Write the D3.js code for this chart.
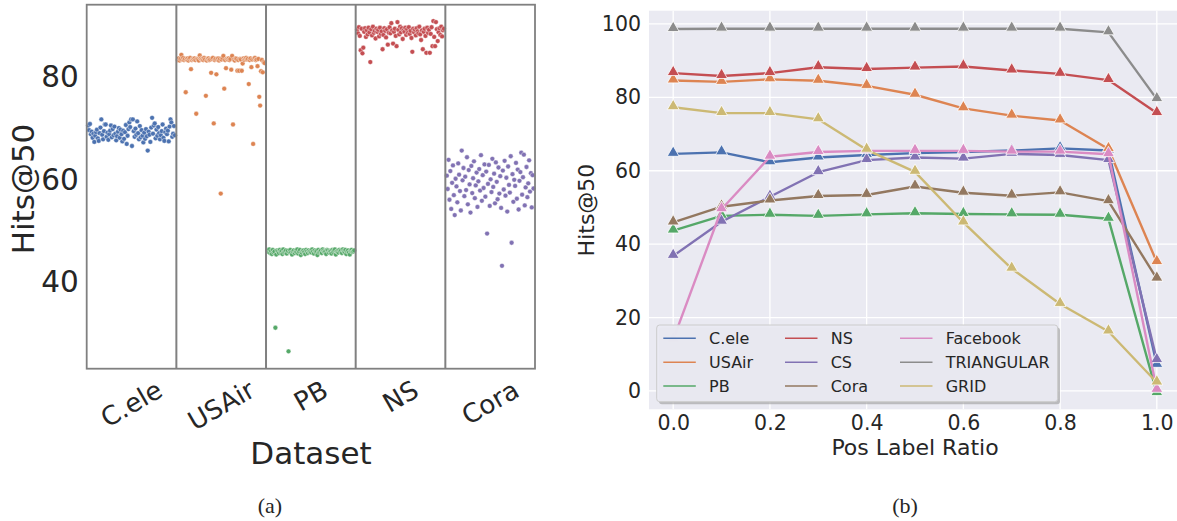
<!DOCTYPE html>
<html>
<head>
<meta charset="utf-8">
<script src="https://cdn.jsdelivr.net/npm/d3@7"></script>
<style>
  body { margin: 0; background: #fff; }
  text { font-family: "DejaVu Sans", sans-serif; fill: #262626; }
</style>
</head>
<body>
<svg id="chart" width="1177" height="521"></svg>
<script>
// ---- panel (a): per-dataset Hits@50 over runs ----
const datasets = ["C.ele", "USAir", "PB", "NS", "Cora"];
const celeHits = [70.6, 69.7, 70.9, 68.9, 69.4, 68.2, 69.0, 67.4, 68.6, 69.3,
  69.8, 68.1, 67.6, 69.1, 70.2, 71.8, 68.8, 67.9, 69.5, 70.8,
  70.8, 68.4, 69.2, 67.8, 68.9, 69.6, 70.6, 68.3, 69.9, 68.7,
  70.4, 69.0, 67.7, 68.5, 69.4, 70.1, 68.2, 69.8, 68.9, 67.5,
  69.6, 68.0, 69.3, 70.7, 67.0, 68.6, 69.9, 71.2, 70.3, 71.8,
  66.6, 71.8, 69.5, 68.4, 70.0, 68.8, 71.4, 69.1, 67.9, 70.5,
  68.3, 69.7, 68.6, 67.3, 69.2, 68.0, 69.9, 68.5, 65.7, 69.4,
  68.8, 67.4, 70.2, 72.1, 69.0, 70.6, 71.0, 68.1, 69.8, 68.6,
  70.3, 69.1, 67.9, 68.7, 69.5, 70.8, 68.2, 67.6, 69.3, 70.0,
  68.9, 69.6, 67.5, 70.4, 71.8, 71.2, 68.4, 69.0, 70.5, 68.7];
const usairHits = [83.4, 83.7, 83.3, 83.6, 84.4, 83.5, 83.8, 83.4, 83.6, 77.1,
  83.5, 83.7, 83.3, 83.6, 83.8, 81.6, 83.4, 83.6, 83.5, 83.7,
  83.4, 72.9, 83.6, 83.5, 83.3, 84.3, 83.7, 83.5, 83.6, 83.4,
  83.8, 83.5, 76.4, 83.3, 83.6, 83.7, 83.4, 83.5, 80.9, 83.6,
  83.8, 71.0, 83.4, 83.6, 80.6, 83.5, 83.7, 83.3, 83.6, 57.3,
  83.5, 83.8, 84.2, 77.8, 83.4, 81.8, 83.6, 83.5, 83.7, 83.4,
  83.6, 81.5, 84.2, 70.8, 83.5, 83.3, 83.7, 83.6, 81.3, 83.4,
  81.3, 83.6, 83.5, 81.3, 82.7, 83.7, 83.4, 83.6, 83.8, 83.5,
  83.6, 78.7, 83.4, 83.7, 82.0, 83.5, 67.0, 83.6, 83.8, 83.4,
  83.5, 82.2, 83.6, 76.2, 74.5, 81.2, 83.4, 81.0, 83.0, 82.8];
const pbHits = [46.2, 45.9, 46.4, 45.7, 46.1, 45.5, 46.3, 45.8, 46.0, 31.1,
  45.4, 46.2, 46.0, 45.7, 46.3, 45.9, 46.1, 45.5, 46.4, 45.8,
  46.0, 46.2, 45.6, 46.1, 26.5, 45.9, 46.3, 45.8, 45.4, 46.0,
  46.2, 45.7, 46.1, 45.9, 46.4, 45.6, 46.0, 46.3, 45.3, 45.8,
  46.1, 46.2, 45.9, 45.5, 46.3, 46.0, 45.7, 46.2, 45.9, 46.1,
  45.8, 46.4, 46.0, 45.6, 46.2, 45.9, 46.1, 45.3, 46.3, 45.8,
  46.0, 46.2, 45.7, 46.4, 46.1, 45.9, 46.0, 45.5, 46.3, 46.2,
  45.8, 46.1, 46.0, 45.6, 46.3, 45.9, 46.2, 46.4, 45.4, 46.0,
  46.1, 45.8, 46.3, 46.0, 46.2, 45.7, 46.4, 46.1, 45.9, 46.3,
  45.5, 46.0, 46.2, 45.8, 45.4, 46.1, 46.3, 45.9, 46.0, 46.2];
const nsHits = [89.3, 88.6, 89.8, 88.1, 85.3, 89.5, 84.7, 85.8, 88.9, 89.6,
  87.9, 89.2, 88.4, 89.7, 88.8, 83.0, 89.4, 88.2, 89.9, 88.7,
  89.1, 87.6, 89.5, 88.9, 89.3, 88.0, 89.7, 88.5, 89.0, 85.5,
  88.3, 89.6, 89.1, 87.8, 89.4, 86.4, 88.7, 89.8, 88.6, 90.6,
  89.2, 86.6, 88.9, 89.5, 88.1, 86.1, 90.8, 89.3, 88.4, 89.9,
  88.8, 89.6, 87.5, 89.2, 88.9, 89.7, 88.3, 89.4, 88.7, 89.8,
  88.5, 89.1, 87.7, 85.0, 89.5, 88.8, 89.3, 88.2, 89.6, 89.0,
  88.6, 89.9, 88.4, 87.3, 89.2, 85.5, 88.9, 89.5, 88.1, 84.8,
  89.7, 88.7, 89.3, 84.8, 88.5, 89.8, 86.1, 91.0, 87.9, 86.1,
  90.8, 89.4, 87.1, 88.8, 89.6, 88.3, 89.9, 88.0, 89.2, 89.5];
const coraHits = [60.8, 58.2, 63.9, 56.1, 61.7, 54.3, 59.4, 62.8, 57.0, 53.1,
  60.2, 58.7, 55.6, 63.2, 61.0, 57.8, 54.0, 65.7, 59.9, 62.3,
  56.8, 60.6, 58.0, 64.4, 55.2, 61.9, 59.1, 53.6, 62.7, 57.4,
  60.3, 63.6, 56.4, 58.9, 61.4, 54.7, 59.7, 62.1, 57.9, 64.8,
  55.9, 60.9, 58.4, 63.0, 56.7, 61.6, 49.5, 59.2, 62.9, 54.9,
  60.1, 57.6, 64.1, 58.6, 61.2, 55.4, 63.4, 59.6, 56.2, 62.4,
  57.3, 60.7, 54.5, 43.2, 61.8, 58.1, 63.7, 56.9, 60.4, 53.8,
  62.6, 59.0, 57.5, 64.6, 47.7, 61.1, 55.7, 60.0, 58.8, 63.3,
  56.3, 62.0, 54.2, 59.8, 61.5, 65.3, 57.1, 60.5, 64.9, 55.0,
  58.5, 62.5, 56.6, 59.3, 63.8, 57.7, 61.3, 54.6, 60.9, 58.3];
const stripTicks = [40, 60, 80];

// ---- panel (b): Hits@50 vs positive label ratio ----
const ratios = [0.0, 0.1, 0.2, 0.3, 0.4, 0.5, 0.6, 0.7, 0.8, 0.9, 1.0];
const seriesNames = ["C.ele", "USAir", "PB", "NS", "CS", "Cora", "Facebook", "TRIANGULAR", "GRID"];
const celeLine = [64.6, 65.0, 62.3, 63.6, 64.3, 64.8, 65.1, 65.5, 66.1, 65.5, 7.1];
const usairLine = [84.6, 84.2, 84.9, 84.5, 83.1, 80.7, 77.0, 75.0, 73.7, 65.9, 35.1];
const pbLine = [43.7, 47.7, 48.0, 47.7, 48.1, 48.4, 48.2, 48.1, 48.0, 46.9, -0.6];
const nsLine = [86.6, 85.8, 86.6, 88.2, 87.7, 88.1, 88.4, 87.3, 86.4, 84.7, 75.7];
const csLine = [36.8, 46.1, 52.9, 59.6, 62.9, 63.6, 63.3, 64.6, 64.3, 62.9, 8.4];
const coraLine = [45.9, 50.2, 51.9, 53.1, 53.4, 55.7, 54.0, 53.2, 54.1, 51.7, 30.6];
const facebookLine = [14.0, 49.5, 63.8, 65.1, 65.4, 65.4, 65.4, 65.2, 65.2, 64.5, 0.3];
const triangularLine = [98.6, 98.7, 98.7, 98.7, 98.7, 98.7, 98.7, 98.7, 98.7, 97.7, 79.5];
const gridLine = [77.3, 75.7, 75.7, 74.0, 65.7, 59.7, 45.9, 33.3, 23.7, 16.2, 2.3];
const lineYTicks = [0, 20, 40, 60, 80, 100];
const lineXTicks = [0.0, 0.2, 0.4, 0.6, 0.8, 1.0];

const palette = ["#4C72B0", "#DD8452", "#55A868", "#C44E52", "#8172B3", "#937860", "#DA8BC3", "#8C8C8C", "#CCB974"];

const svg = d3.select("#chart");

// ================= panel (a) =================
const stripData = [celeHits, usairHits, pbHits, nsHits, coraHits];
const xa = d3.scaleBand().domain(datasets).range([86.7, 535]);
const ya = d3.scaleLinear().domain([23.1, 94.2]).range([368.7, 4.7]);

const gA = svg.append("g");

stripData.forEach(function(vals, k) {
    const cat = datasets[k];
    const inner = d3.scalePoint().domain(d3.range(vals.length))
        .range([xa(cat) + 1.5, xa(cat) + xa.bandwidth() - 1.5]);
    gA.selectAll(".dot" + k)
        .data(vals)
        .enter()
        .append("circle")
        .attr("cx", (v, i) => inner(i))
        .attr("cy", v => ya(v))
        .attr("r", 2.4)
        .attr("fill", palette[k === 4 ? 4 : k])
        .attr("stroke", "#fff")
        .attr("stroke-width", 0.4);
});

// separators between datasets
gA.selectAll(".sep")
    .data(datasets.slice(1))
    .enter()
    .append("line")
    .attr("x1", d => xa(d)).attr("x2", d => xa(d))
    .attr("y1", 4.7).attr("y2", 368.7)
    .attr("stroke", "#808080").attr("stroke-width", 2);

gA.append("rect")
    .attr("x", 86.7).attr("y", 4.7)
    .attr("width", 535 - 86.7).attr("height", 368.7 - 4.7)
    .attr("fill", "none").attr("stroke", "#808080").attr("stroke-width", 1.8);

const axA = gA.append("g")
    .attr("transform", "translate(86.7,0)")
    .call(d3.axisLeft(ya).tickValues(stripTicks).tickSize(0).tickPadding(8));
axA.select(".domain").remove();
axA.selectAll("text").style("font-size", "29.5px").attr("fill", "#262626");

// rotated dataset labels
datasets.forEach(function(cat) {
    const t = gA.append("text")
        .text(cat)
        .style("font-size", "26px")
        .attr("text-anchor", "middle")
        .attr("dominant-baseline", "central");
    const len = t.node().getComputedTextLength();
    const h = 26 * 0.75;
    const boxH = len * 0.5 + h * 0.866;
    t.attr("transform", `translate(${xa(cat) + xa.bandwidth() / 2},${379 + boxH / 2}) rotate(-30)`);
});

gA.append("text")
    .text("Dataset")
    .attr("x", 311).attr("y", 464)
    .attr("text-anchor", "middle")
    .style("font-size", "31px");

gA.append("text")
    .text("Hits@50")
    .attr("transform", "translate(34,189) rotate(-90)")
    .attr("text-anchor", "middle")
    .style("font-size", "31px");

// ================= panel (b) =================
const lines = [celeLine, usairLine, pbLine, nsLine, csLine, coraLine, facebookLine, triangularLine, gridLine];
const xb = d3.scaleLinear().domain([-0.05, 1.05]).range([649, 1181]);
const yb = d3.scaleLinear().domain([-5, 103.6]).range([409.3, 10.7]);

const gB = svg.append("g");
gB.append("rect")
    .attr("x", 649).attr("y", 10.7)
    .attr("width", 1181 - 649).attr("height", 409.3 - 10.7)
    .attr("fill", "#EAEAF2");

gB.selectAll(".hgrid")
    .data(lineYTicks)
    .enter()
    .append("line")
    .attr("x1", 649).attr("x2", 1181)
    .attr("y1", d => yb(d)).attr("y2", d => yb(d))
    .attr("stroke", "#fff").attr("stroke-width", 1.3);
gB.selectAll(".vgrid")
    .data(lineXTicks)
    .enter()
    .append("line")
    .attr("y1", 10.7).attr("y2", 409.3)
    .attr("x1", d => xb(d)).attr("x2", d => xb(d))
    .attr("stroke", "#fff").attr("stroke-width", 1.3);

const axBy = gB.append("g")
    .attr("transform", "translate(649,0)")
    .call(d3.axisLeft(yb).tickValues(lineYTicks).tickSize(0).tickPadding(8));
axBy.select(".domain").remove();
axBy.selectAll("text").style("font-size", "20.5px").attr("fill", "#262626");

const axBx = gB.append("g")
    .attr("transform", "translate(0,409.3)")
    .call(d3.axisBottom(xb).tickValues(lineXTicks).tickFormat(d3.format(".1f")).tickSize(0).tickPadding(6));
axBx.select(".domain").remove();
axBx.selectAll("text").style("font-size", "20.5px").attr("fill", "#262626");

gB.append("text")
    .text("Pos Label Ratio")
    .attr("x", 915).attr("y", 455)
    .attr("text-anchor", "middle")
    .style("font-size", "22px");

gB.append("text")
    .text("Hits@50")
    .attr("transform", "translate(594,210) rotate(-90)")
    .attr("text-anchor", "middle")
    .style("font-size", "22px");

const lineGen = d3.line()
    .x((v, i) => xb(ratios[i]))
    .y(v => yb(v));
const tri = d3.symbol().type(d3.symbolTriangle).size(62);

lines.forEach(function(vals, k) {
    const g = gB.append("g");
    g.append("path")
        .datum(vals)
        .attr("d", lineGen)
        .attr("fill", "none")
        .attr("stroke", palette[k])
        .attr("stroke-width", 2.4)
        .attr("stroke-linejoin", "round");
    g.selectAll("path.m")
        .data(vals)
        .enter()
        .append("path")
        .attr("class", "m")
        .attr("d", tri)
        .attr("transform", (v, i) => `translate(${xb(ratios[i])},${yb(v) - 1})`)
        .attr("fill", palette[k])
        .attr("stroke", "#fff")
        .attr("stroke-width", 0.8);
});

// legend
const lg = gB.append("g");
lg.append("rect")
    .attr("x", 659).attr("y", 327.5)
    .attr("width", 401).attr("height", 76.7)
    .attr("rx", 3)
    .attr("fill", "#9a9a9a").attr("opacity", 0.6);
lg.append("rect")
    .attr("x", 656.7).attr("y", 325)
    .attr("width", 401).attr("height", 76.7)
    .attr("rx", 3)
    .attr("fill", "#EAEAF2").attr("fill-opacity", 0.95)
    .attr("stroke", "#cccccc").attr("stroke-width", 1);

const colX = [663.3, 785, 900];
const rowY = [338.3, 362.3, 386];
seriesNames.forEach(function(name, k) {
    const cx = colX[Math.floor(k / 3)];
    const cy = rowY[k % 3];
    lg.append("line")
        .attr("x1", cx).attr("x2", cx + 32.5)
        .attr("y1", cy).attr("y2", cy)
        .attr("stroke", palette[k]).attr("stroke-width", 1.6);
    lg.append("text")
        .text(name)
        .attr("x", cx + 45.7).attr("y", cy)
        .attr("dominant-baseline", "central")
        .style("font-size", "16px");
});

// captions
svg.append("text").text("(a)")
    .attr("x", 270).attr("y", 513)
    .attr("text-anchor", "middle")
    .style("font-family", "'Liberation Serif', 'DejaVu Serif', serif")
    .style("font-size", "22px")
    .attr("fill", "#000");
svg.append("text").text("(b)")
    .attr("x", 905).attr("y", 513)
    .attr("text-anchor", "middle")
    .style("font-family", "'Liberation Serif', 'DejaVu Serif', serif")
    .style("font-size", "22px")
    .attr("fill", "#000");
</script>
</body>
</html>
